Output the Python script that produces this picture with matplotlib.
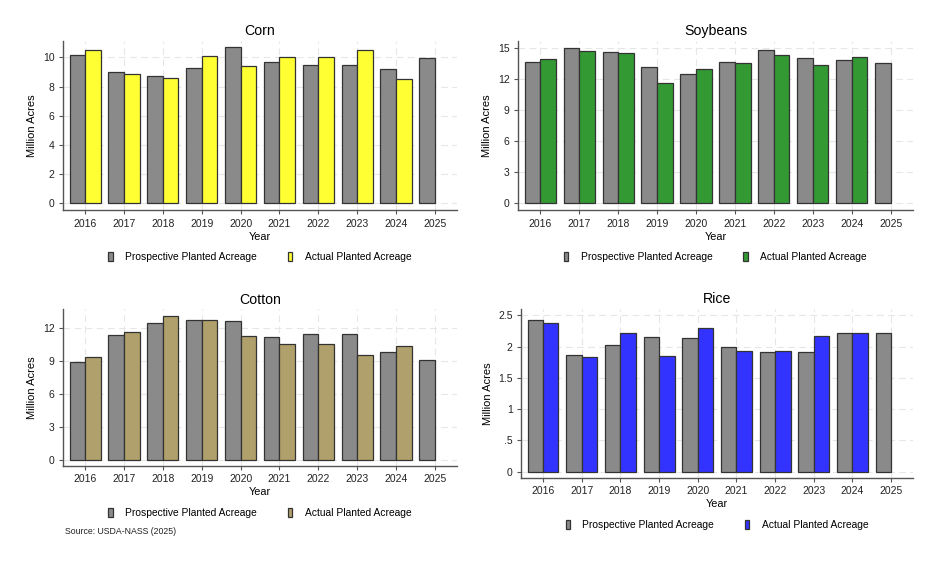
import numpy as np
import matplotlib.pyplot as plt
from matplotlib.patches import Patch

plt.rcParams['font.family'] = ['Liberation Sans', 'DejaVu Sans']

years = [2016, 2017, 2018, 2019, 2020, 2021, 2022, 2023, 2024, 2025]

corn_prosp = [10.16, 9.0, 8.72, 9.27, 10.69, 9.66, 9.47, 9.47, 9.2, 9.95]
corn_actual = [10.5, 8.83, 8.58, 10.07, 9.38, 10.0, 10.0, 10.48, 8.51]

soy_prosp = [13.62, 15.0, 14.55, 13.1, 12.43, 13.59, 14.74, 13.97, 13.85, 13.49]
soy_actual = [13.88, 14.71, 14.46, 11.63, 12.98, 13.49, 14.26, 13.3, 14.07]

cotton_prosp = [8.86, 11.37, 12.45, 12.73, 12.64, 11.15, 11.43, 11.43, 9.82, 9.1]
cotton_actual = [9.34, 11.64, 13.09, 12.67, 11.22, 10.49, 10.49, 9.52, 10.31]

rice_prosp = [2.43, 1.87, 2.03, 2.15, 2.14, 2.0, 1.91, 1.91, 2.21, 2.22]
rice_actual = [2.37, 1.84, 2.21, 1.85, 2.29, 1.93, 1.93, 2.17, 2.22]

rice_ticks = [0, 0.5, 1, 1.5, 2, 2.5]
rice_ticklabels = ['0', '.5', '1', '1.5', '2', '2.5']

GRAY = '#8a8a8a'
EDGE = '#333333'

fig = plt.figure(figsize=(9.36, 5.62), dpi=100)


def panel(rect, title, prosp, actual, color, ylim, yticks, yticklabels=None):
    ax = fig.add_axes(rect)
    x = np.array(years)
    ax.bar(x - 0.2, prosp, width=0.4, color=GRAY, edgecolor=EDGE, linewidth=0.9, zorder=3)
    ax.bar(x[:len(actual)] + 0.2, actual, width=0.4, color=color, edgecolor=EDGE,
           linewidth=0.9, zorder=3)
    ax.set_xlim(2015.43, 2025.57)
    ax.set_ylim(*ylim)
    ax.set_xticks(years)
    ax.set_yticks(yticks)
    if yticklabels is not None:
        ax.set_yticklabels(yticklabels)
    ax.tick_params(labelsize=7.5, colors='#555555', labelcolor='#222222', length=3,
                   width=0.8, pad=3)
    ax.grid(True, color='#e6e6e6', linestyle=(0, (6, 4)), linewidth=0.8, zorder=0)
    for s in ['top', 'right']:
        ax.spines[s].set_visible(False)
    for s in ['left', 'bottom']:
        ax.spines[s].set_color('#555555')
        ax.spines[s].set_linewidth(1.0)
    ax.set_title(title, fontsize=10.2, pad=4)
    ax.set_xlabel('Year', fontsize=7.8, labelpad=2.2)
    ax.set_ylabel('Million Acres', fontsize=8)
    return ax


def legend(ax, color, y):
    handles = [Patch(facecolor=GRAY, edgecolor=EDGE, linewidth=0.9),
               Patch(facecolor=color, edgecolor=EDGE, linewidth=0.9)]
    labels = ['Prospective Planted Acreage', 'Actual Planted Acreage']
    pos = ax.get_position()
    fig.legend(handles, labels, loc='center', ncol=2, frameon=False, fontsize=7.4,
               bbox_to_anchor=((pos.x0 + pos.x1) / 2, y), handlelength=0.4,
               handleheight=0.9, handletextpad=1.25, columnspacing=3.0)


ax1 = panel([0.0673, 0.626, 0.421, 0.301], 'Corn', corn_prosp, corn_actual,
            '#ffff33', (-0.48, 11.12), [0, 2, 4, 6, 8, 10])
legend(ax1, '#ffff33', 1 - 257 / 562)

ax2 = panel([0.5534, 0.626, 0.422, 0.301], 'Soybeans', soy_prosp, soy_actual,
            '#339933', (-0.65, 15.64), [0, 3, 6, 9, 12, 15])
legend(ax2, '#339933', 1 - 257 / 562)

ax3 = panel([0.0673, 0.1708, 0.421, 0.279], 'Cotton', cotton_prosp, cotton_actual,
            '#b0a06b', (-0.54, 13.69), [0, 3, 6, 9, 12])
legend(ax3, '#b0a06b', 1 - 513 / 562)

ax4 = panel([0.5566, 0.1495, 0.419, 0.3007], 'Rice', rice_prosp, rice_actual,
            '#3333ff', (-0.1, 2.6), rice_ticks, rice_ticklabels)
legend(ax4, '#3333ff', 1 - 525 / 562)

fig.text(65 / 936, 1 - 532 / 562, 'Source: USDA-NASS (2025)', fontsize=6.3,
         va='center', ha='left', color='#222222')

fig.savefig('out.png', dpi=100)
